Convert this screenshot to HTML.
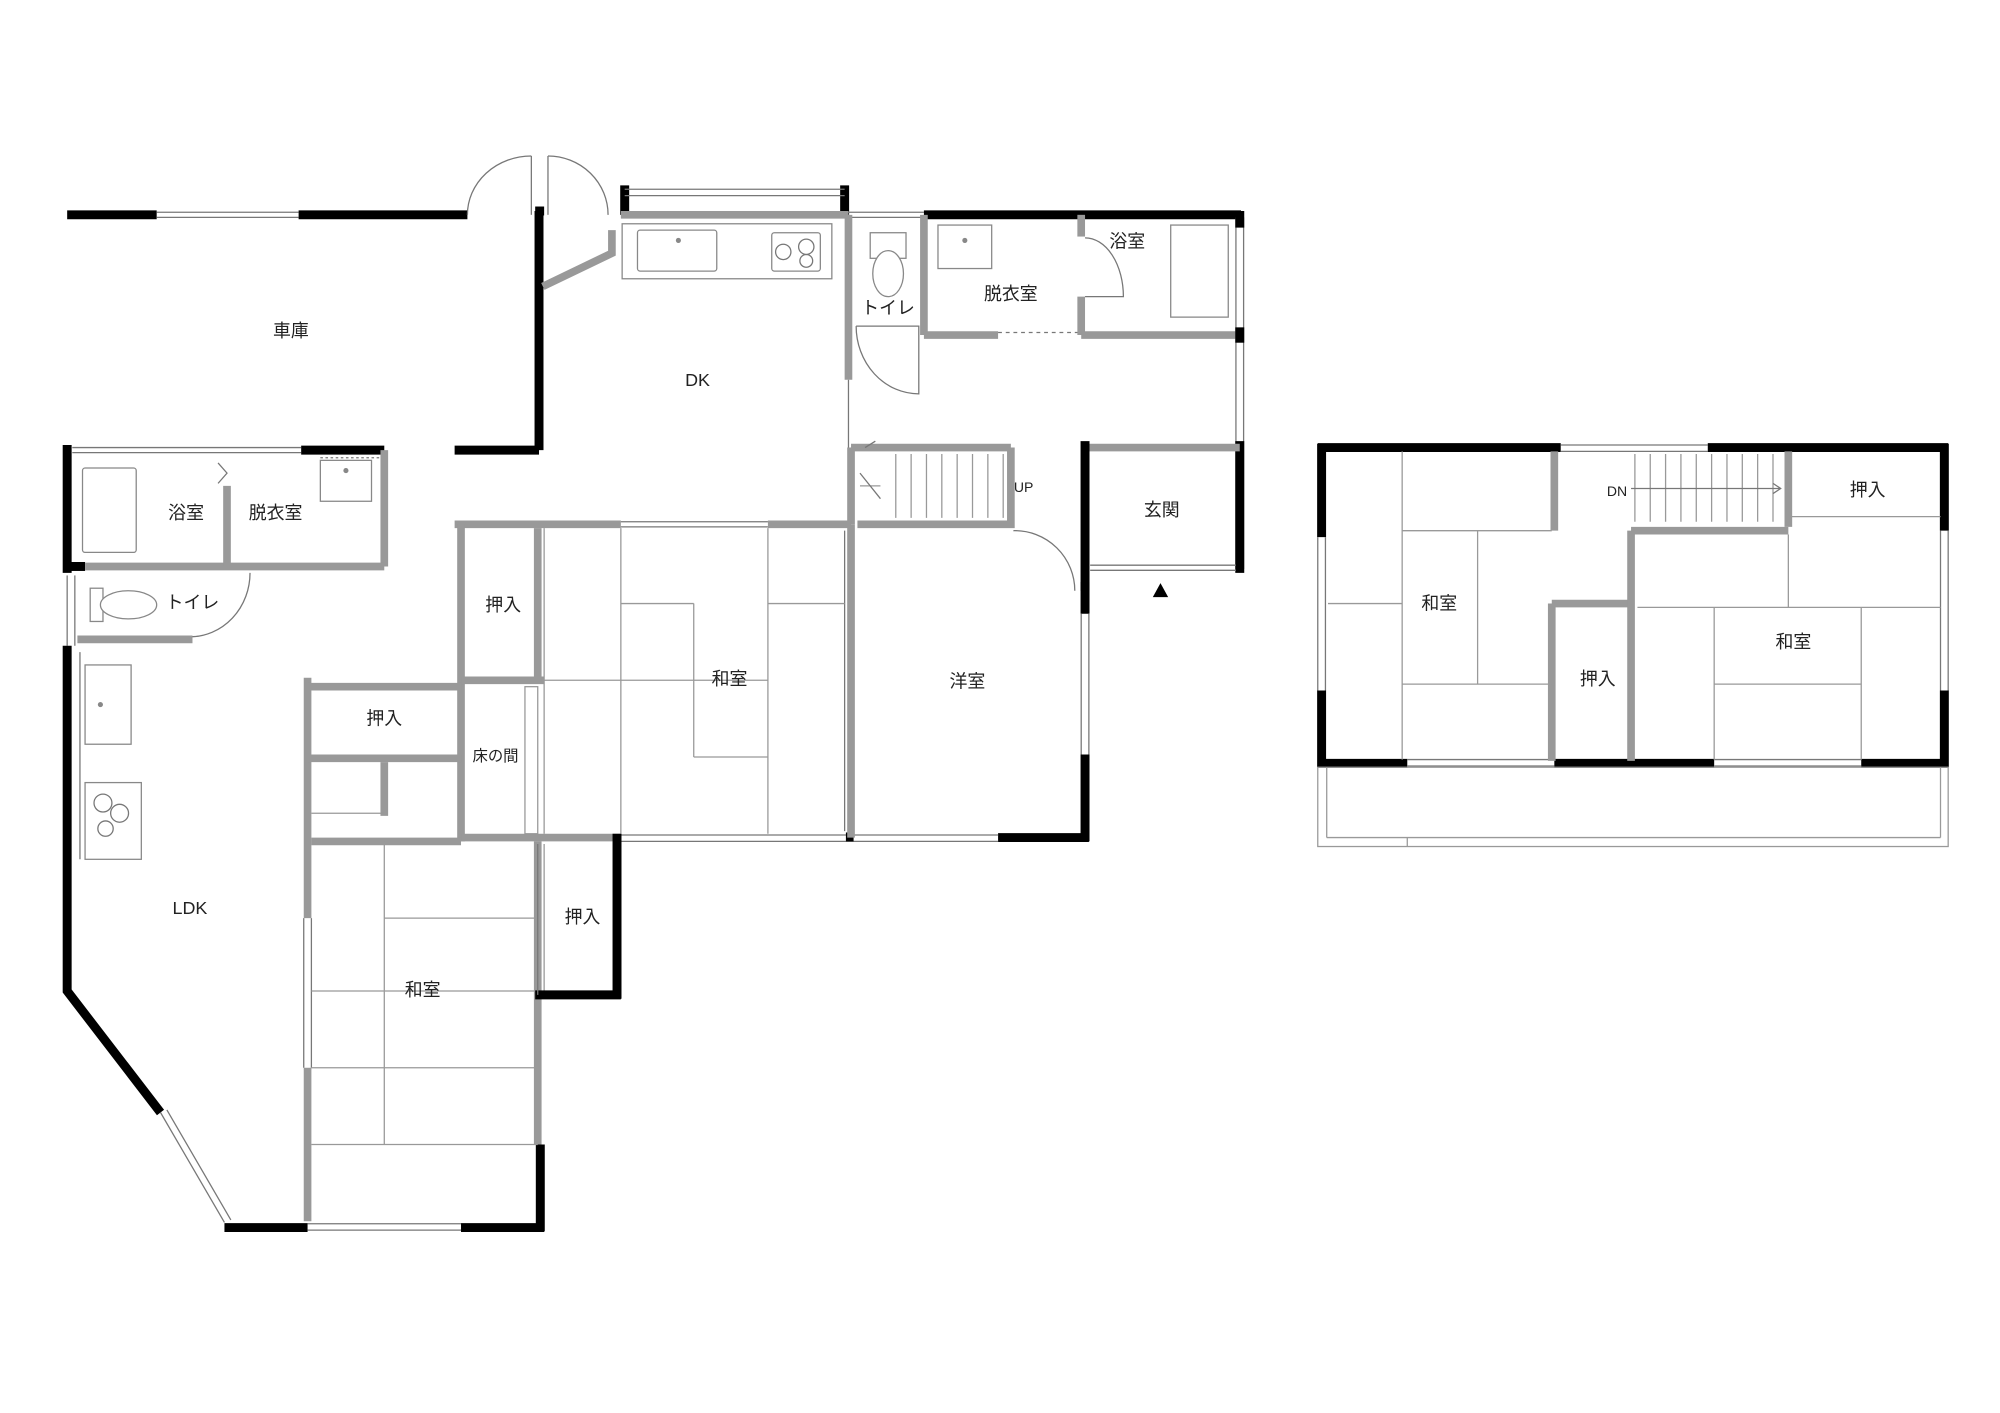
<!DOCTYPE html>
<html><head><meta charset="utf-8"><style>
html,body{margin:0;padding:0;background:#fff;}
svg{display:block}
text{font-family:"Liberation Sans","Noto Sans CJK JP",sans-serif;font-size:14px;fill:#222;text-anchor:middle;dominant-baseline:middle}
.b{stroke:#000;stroke-width:7;fill:none}
.g{stroke:#999;stroke-width:6;fill:none}
.t{stroke:#777;stroke-width:1;fill:none}
.w{stroke:#999;stroke-width:1;fill:none}
.f{stroke:#888;stroke-width:1;fill:#fff}
</style></head><body>
<svg width="2000" height="1413" viewBox="0 0 1563 1105" xmlns="http://www.w3.org/2000/svg">
<rect width="1563" height="1105" fill="#fff"/>
<!-- Garage -->
<line class="b" x1="52" y1="168" x2="122" y2="168"/>
<line class="t" x1="122" y1="166" x2="233" y2="166"/><line class="t" x1="122" y1="170" x2="233" y2="170"/>
<line class="b" x1="233" y1="168" x2="365" y2="168"/>
<line class="b" x1="418" y1="165" x2="425" y2="165"/>
<line class="b" x1="421" y1="165" x2="421" y2="352"/>
<line class="b" x1="355" y1="352" x2="421" y2="352"/>
<!-- doors -->
<line class="t" x1="415" y1="122" x2="415" y2="168"/><path class="t" d="M365,168 A50,46 0 0 1 415,122"/>
<line class="t" x1="428" y1="122" x2="428" y2="168"/><path class="t" d="M475,168 A47,46 0 0 0 428,122"/>
<path class="g" d="M424,224 L478,198 L478,180" stroke-width="3"/>
<!-- DK top -->
<line class="b" x1="488" y1="145" x2="488" y2="168"/><line class="b" x1="660" y1="145" x2="660" y2="168"/>
<line class="t" x1="488" y1="148" x2="660" y2="148"/><line class="t" x1="488" y1="153" x2="660" y2="153"/>
<line class="g" x1="485" y1="168" x2="663" y2="168" stroke-width="3"/>
<rect class="f" x="486" y="175" width="164" height="43"/>
<rect class="f" x="498" y="180" width="62" height="32" rx="2"/><circle cx="530" cy="188" r="2" fill="#888"/>
<rect class="f" x="603" y="182" width="38" height="30" rx="2"/>
<circle class="t" cx="612" cy="197" r="6"/><circle class="t" cx="630" cy="193" r="6"/><circle class="t" cx="630" cy="204" r="5"/>
<!-- toilet/bath top -->
<line class="t" x1="663" y1="166" x2="722" y2="166"/><line class="t" x1="663" y1="170" x2="722" y2="170"/>
<line class="b" x1="722" y1="168" x2="970" y2="168"/>
<line class="g" x1="663" y1="168" x2="663" y2="297"/>
<line class="g" x1="722" y1="168" x2="722" y2="262"/>
<path class="t" d="M669,255 L718,255 L718,308 A49,53 0 0 1 669,255"/>
<rect class="f" x="680" y="182" width="28" height="20"/><ellipse class="f" cx="694" cy="214" rx="12" ry="18"/>
<rect class="f" x="733" y="176" width="42" height="34"/><circle cx="754" cy="188" r="2" fill="#888"/>
<line class="g" x1="722" y1="262" x2="780" y2="262"/><line class="t" x1="780" y1="260" x2="845" y2="260" stroke-dasharray="3,3"/>
<line class="g" x1="845" y1="262" x2="970" y2="262"/>
<line class="g" x1="845" y1="168" x2="845" y2="185"/><line class="g" x1="845" y1="232" x2="845" y2="262"/>
<path class="t" d="M848,186 A30,46 0 0 1 878,232 L848,232"/>
<rect class="f" x="915" y="176" width="45" height="72"/>
<line class="t" x1="966" y1="170" x2="966" y2="445"/><line class="t" x1="972" y1="170" x2="972" y2="445"/>
<line class="b" x1="969" y1="165" x2="969" y2="178"/><line class="b" x1="969" y1="256" x2="969" y2="268"/>
<line class="b" x1="969" y1="345" x2="969" y2="448"/>
<line class="g" x1="848" y1="350" x2="969" y2="350" stroke-width="3"/>
<!-- genkan -->
<line class="b" x1="848" y1="345" x2="848" y2="462"/>
<line class="t" x1="852" y1="442" x2="966" y2="442"/><line class="t" x1="852" y1="446" x2="966" y2="446"/>
<polygon points="901,467 913,467 907,456" fill="#000"/>
<!-- stairs -->
<path class="g" d="M665,350 L790,350 M665,350 L665,410 M670,410 L790,410 L790,350"/>
<path class="w" d="M700,355 V405 M712,355 V405 M724,355 V405 M736,355 V405 M748,355 V405 M760,355 V405 M772,355 V405 M784,355 V405 M672,380 L688,380"/>
<path class="t" d="M676,350 L684,345 M672,370 L688,390"/>
<!-- youshitsu -->
<line class="g" x1="600" y1="410" x2="665" y2="410"/>
<line class="t" x1="663" y1="297" x2="663" y2="350"/>
<path class="t" d="M792,415 A47,47 0 0 1 840,462"/>
<line class="b" x1="848" y1="455" x2="848" y2="480"/><line class="b" x1="848" y1="590" x2="848" y2="658"/>
<line class="t" x1="845" y1="480" x2="845" y2="590"/><line class="t" x1="851" y1="480" x2="851" y2="590"/>
<line class="b" x1="780" y1="655" x2="851" y2="655"/>
<line class="t" x1="485" y1="653" x2="780" y2="653"/><line class="t" x1="485" y1="658" x2="780" y2="658"/>
<rect x="661" y="651" width="6" height="7" fill="#000"/>
<line class="g" x1="665" y1="410" x2="665" y2="655" stroke-width="3"/>
<line class="t" x1="660" y1="415" x2="660" y2="650"/>
<!-- center washitsu -->
<line class="g" x1="355" y1="410" x2="485" y2="410"/><line class="t" x1="485" y1="408" x2="600" y2="408"/><line class="t" x1="485" y1="412" x2="600" y2="412"/>
<line class="g" x1="360" y1="410" x2="360" y2="658"/>
<line class="g" x1="360" y1="532" x2="425" y2="532"/>
<line class="g" x1="360" y1="655" x2="485" y2="655"/>
<line class="g" x1="420" y1="413" x2="420" y2="532" stroke-width="3"/>
<rect class="w" x="410" y="537" width="10" height="115"/>
<path class="w" d="M425,413 V652 M485,413 V652 M600,413 V652 M485,532 H600 M425,532 H485 M542,472 V592 M485,472 H542 M542,592 H600 M600,472 H660"/>
<!-- left block bath -->
<line class="b" x1="52" y1="348" x2="52" y2="448"/>
<line class="t" x1="56" y1="350" x2="235" y2="350"/><line class="t" x1="56" y1="354" x2="235" y2="354"/>
<line class="b" x1="235" y1="352" x2="300" y2="352"/>
<line class="g" x1="300" y1="352" x2="300" y2="443"/>
<line class="b" x1="55" y1="443" x2="66" y2="443"/>
<line class="g" x1="66" y1="443" x2="300" y2="443"/>
<line class="g" x1="177" y1="380" x2="177" y2="443"/>
<path class="t" d="M170,362 L177,370 L170,378"/>
<rect class="f" x="64" y="366" width="42" height="66" rx="2"/>
<rect class="f" x="250" y="360" width="40" height="32"/><circle cx="270" cy="368" r="2" fill="#888"/>
<line class="t" x1="250" y1="358" x2="298" y2="358" stroke-dasharray="2,2"/>
<!-- toilet -->
<path class="t" d="M195,448 A47,50 0 0 1 148,498"/>
<line class="g" x1="60" y1="500" x2="150" y2="500"/>
<rect class="f" x="70" y="460" width="10" height="26"/><ellipse class="f" cx="100" cy="473" rx="22" ry="11"/>
<line class="t" x1="52" y1="450" x2="52" y2="505"/><line class="t" x1="58" y1="450" x2="58" y2="505"/>
<!-- LDK -->
<path class="b" d="M52,505 L52,775 L125,870"/>
<line class="t" x1="125" y1="870" x2="175" y2="956"/><line class="t" x1="130" y1="868" x2="180" y2="954"/>
<line class="b" x1="175" y1="960" x2="240" y2="960"/>
<line class="t" x1="240" y1="957" x2="360" y2="957"/><line class="t" x1="240" y1="962" x2="360" y2="962"/>
<line class="b" x1="360" y1="960" x2="425" y2="960"/>
<line class="b" x1="422" y1="895" x2="422" y2="963"/>
<rect class="f" x="66" y="520" width="36" height="62"/><circle cx="78" cy="551" r="2" fill="#888"/>
<rect class="f" x="66" y="612" width="44" height="60"/>
<circle class="t" cx="80" cy="628" r="7"/><circle class="t" cx="93" cy="636" r="7"/><circle class="t" cx="82" cy="648" r="6"/>
<line class="t" x1="62" y1="510" x2="62" y2="672"/>
<line class="g" x1="240" y1="530" x2="240" y2="718"/>
<line class="g" x1="240" y1="835" x2="240" y2="955"/>
<line class="t" x1="237" y1="718" x2="237" y2="835"/><line class="t" x1="243" y1="718" x2="243" y2="835"/>
<line class="g" x1="240" y1="537" x2="360" y2="537" stroke-width="3"/>
<line class="g" x1="240" y1="593" x2="360" y2="593"/>
<line class="g" x1="300" y1="596" x2="300" y2="638"/>
<line class="w" x1="243" y1="636" x2="300" y2="636"/>
<!-- lower washitsu -->
<line class="g" x1="243" y1="658" x2="360" y2="658" stroke-width="3"/>
<line class="g" x1="420" y1="658" x2="420" y2="895" stroke-width="3"/>
<path class="w" d="M300,658 V895 M243,775 H420 M243,835 H420 M300,718 H420 M243,895 H420"/>
<line class="w" x1="425" y1="660" x2="425" y2="775"/>
<line class="b" x1="482" y1="652" x2="482" y2="781"/>
<line class="b" x1="418" y1="778" x2="485" y2="778"/>
<line class="t" x1="420" y1="660" x2="420" y2="778"/>
<!-- 2F -->
<line class="b" x1="1030" y1="350" x2="1220" y2="350"/>
<line class="t" x1="1220" y1="348" x2="1335" y2="348"/><line class="t" x1="1220" y1="353" x2="1335" y2="353"/>
<line class="b" x1="1335" y1="350" x2="1523" y2="350"/>
<line class="b" x1="1033" y1="347" x2="1033" y2="420"/><line class="b" x1="1033" y1="540" x2="1033" y2="600"/>
<line class="t" x1="1030" y1="420" x2="1030" y2="540"/><line class="t" x1="1036" y1="420" x2="1036" y2="540"/>
<line class="b" x1="1520" y1="347" x2="1520" y2="415"/><line class="b" x1="1520" y1="540" x2="1520" y2="600"/>
<line class="t" x1="1517" y1="415" x2="1517" y2="540"/><line class="t" x1="1523" y1="415" x2="1523" y2="540"/>
<line class="b" x1="1030" y1="597" x2="1100" y2="597"/><line class="t" x1="1100" y1="594" x2="1215" y2="594"/><line class="t" x1="1100" y1="599" x2="1215" y2="599"/>
<line class="b" x1="1215" y1="597" x2="1340" y2="597"/><line class="t" x1="1340" y1="594" x2="1455" y2="594"/><line class="t" x1="1340" y1="599" x2="1455" y2="599"/>
<line class="b" x1="1455" y1="597" x2="1523" y2="597"/>
<rect class="w" x="1030" y="600" width="493" height="62"/><line class="w" x1="1037" y1="600" x2="1037" y2="655"/><line class="w" x1="1037" y1="655" x2="1517" y2="655"/><line class="w" x1="1517" y1="600" x2="1517" y2="655"/><line class="w" x1="1100" y1="655" x2="1100" y2="662"/>
<line class="g" x1="1215" y1="353" x2="1215" y2="415"/>
<line class="g" x1="1213" y1="472" x2="1275" y2="472"/>
<line class="g" x1="1213" y1="472" x2="1213" y2="595" stroke-width="3"/>
<line class="g" x1="1275" y1="415" x2="1275" y2="595"/>
<line class="g" x1="1275" y1="415" x2="1398" y2="415" stroke-width="3"/>
<line class="g" x1="1398" y1="353" x2="1398" y2="412"/>
<line class="w" x1="1400" y1="404" x2="1517" y2="404"/>
<path class="w" d="M1278,355 V408 M1290,355 V408 M1302,355 V408 M1314,355 V408 M1326,355 V408 M1338,355 V408 M1350,355 V408 M1362,355 V408 M1374,355 V408 M1386,355 V408"/>
<path class="t" d="M1275,382 H1392 M1386,378 L1392,382 L1386,386"/>
<path class="w" d="M1096,353 V594 M1096,415 H1213 M1096,535 H1213 M1155,415 V535 M1038,472 H1096"/>
<path class="w" d="M1280,475 H1517 M1340,475 V594 M1340,535 H1455 M1455,475 V594 M1398,418 V475"/>
<!-- labels -->
<text x="227" y="260">車庫</text><text x="545" y="298">DK</text>
<text x="694" y="242">トイレ</text><text x="790" y="231">脱衣室</text><text x="881" y="190">浴室</text>
<text x="800" y="382" style="font-size:11px">UP</text><text x="908" y="400">玄関</text>
<text x="145" y="402">浴室</text><text x="215" y="402">脱衣室</text><text x="150" y="472">トイレ</text>
<text x="393" y="474">押入</text><text x="570" y="532">和室</text><text x="756" y="534">洋室</text>
<text x="300" y="563">押入</text><text x="387" y="592" style="font-size:12px">床の間</text>
<text x="148" y="711">LDK</text><text x="455" y="718">押入</text><text x="330" y="775">和室</text>
<text x="1264" y="385" style="font-size:11px">DN</text><text x="1460" y="384">押入</text>
<text x="1125" y="473">和室</text><text x="1402" y="503">和室</text><text x="1249" y="532">押入</text>
</svg>
</body></html>
